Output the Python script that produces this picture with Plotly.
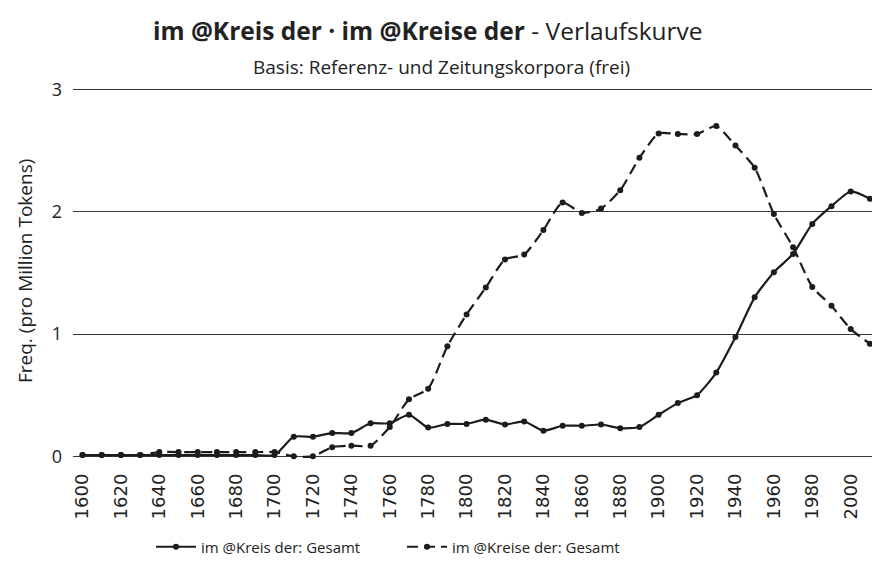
import plotly.graph_objects as go

years = list(range(1600, 2020, 10))

kreis = [0.01, 0.01, 0.01, 0.01,
         0.01, 0.01, 0.01, 0.01, 0.01, 0.01, 0.01,
         0.16, 0.16, 0.19, 0.19, 0.27, 0.27, 0.34, 0.235, 0.265, 0.265,
         0.30, 0.26, 0.285, 0.21, 0.25, 0.25, 0.26, 0.23, 0.24, 0.34,
         0.435, 0.50, 0.685, 0.975, 1.30, 1.505, 1.655, 1.90, 2.045, 2.165, 2.105]

kreise = [0.01, 0.01, 0.01, 0.01,
          0.035, 0.035, 0.035, 0.035, 0.035, 0.035, 0.035,
          0.0, 0.0, 0.075, 0.087, 0.087, 0.24, 0.466, 0.553, 0.90, 1.16,
          1.38, 1.61, 1.65, 1.85, 2.075, 1.99, 2.025, 2.175, 2.44, 2.64,
          2.635, 2.635, 2.70, 2.54, 2.36, 1.98, 1.71, 1.385, 1.23, 1.04, 0.92]

series_names = ["im @Kreis der: Gesamt", "im @Kreise der: Gesamt"]
x_ticks = list(range(1600, 2001, 20))
y_ticks = [0, 1, 2, 3]

FONT = "Open Sans"
INK = "#1c1c1c"
TXT = "#222"

PW = 799.0  # plot width in px (screen 73 -> 872)
PH = 372.0  # plot height in px (screen 88 -> 460)

fig = go.Figure()
fig.add_trace(go.Scatter(
    x=years, y=kreis, name=series_names[0], mode="lines+markers",
    line=dict(color=INK, width=2.2, shape="spline", smoothing=0.6),
    marker=dict(size=6, color=INK), cliponaxis=False))
fig.add_trace(go.Scatter(
    x=years, y=kreise, name=series_names[1], mode="lines+markers",
    line=dict(color=INK, width=2.2, dash="11px,6px", shape="spline", smoothing=0.6),
    marker=dict(size=6, color=INK), cliponaxis=False))

fig.update_layout(
    width=864, height=561,
    margin=dict(l=65, r=0, t=80, b=109, autoexpand=False),
    paper_bgcolor="white", plot_bgcolor="white",
    font=dict(family=FONT, color=TXT),
    showlegend=True,
    legend=dict(orientation="h", x=(402 - 73) / PW, xanchor="center",
                y=-(547 - 460) / PH, yanchor="middle",
                font=dict(size=15, family=FONT, color=TXT), itemwidth=40,
                entrywidth=196, entrywidthmode="pixels"),
    annotations=[
        dict(text="<b>im @Kreis der · im @Kreise der</b> - Verlaufskurve",
             xref="paper", yref="paper", x=(428 - 73) / PW, y=(460 - 31) / PH,
             xanchor="center", yanchor="middle", showarrow=False,
             font=dict(size=24.5, family=FONT, color=TXT)),
        dict(text="Basis: Referenz- und Zeitungskorpora (frei)",
             xref="paper", yref="paper", x=(441 - 73) / PW, y=(460 - 67) / PH,
             xanchor="center", yanchor="middle", showarrow=False,
             font=dict(size=19, family=FONT, color=TXT)),
        dict(text="Freq. (pro Million Tokens)", textangle=-90,
             xref="paper", yref="paper", x=(25 - 73) / PW, y=(460 - 271) / PH,
             xanchor="center", yanchor="middle", showarrow=False,
             font=dict(size=19, family=FONT, color=TXT)),
    ],
)

fig.update_xaxes(
    range=[1595.05, 2011.1], tickvals=x_ticks, ticktext=[str(v) for v in x_ticks],
    tickangle=-90, showgrid=False, zeroline=False, showline=False, automargin=False,
    ticks="", tickfont=dict(size=18, family="DejaVu Sans", color=TXT),
    ticklabelstandoff=9)
fig.update_yaxes(
    range=[-0.03, 3.011], tickvals=y_ticks, showgrid=True, gridcolor="#3a3a3a",
    gridwidth=1.4, zeroline=False, showline=False, ticks="", automargin=False,
    tickfont=dict(size=18, family=FONT, color=TXT), ticklabelstandoff=10)

fig.write_html("out.html")
